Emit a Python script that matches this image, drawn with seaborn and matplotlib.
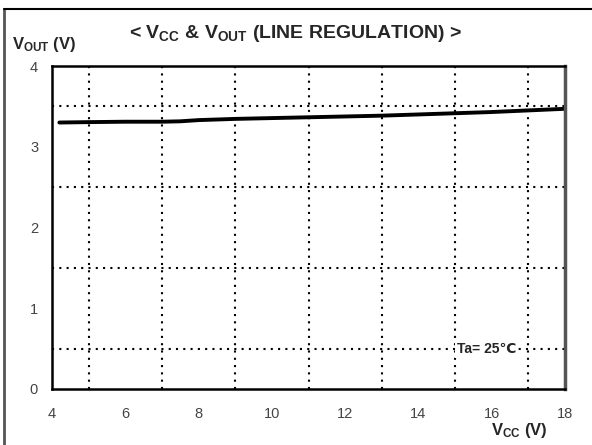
import numpy as np
import pandas as pd
import seaborn as sns
import matplotlib.pyplot as plt
from matplotlib.lines import Line2D

# values
vcc = [4.2, 5, 6, 7, 7.5, 8, 9, 10, 11, 12, 13, 14, 15, 16, 17, 18]
vout = [3.30, 3.305, 3.31, 3.31, 3.315, 3.33, 3.345, 3.355, 3.365, 3.375,
        3.385, 3.40, 3.415, 3.43, 3.45, 3.47]
x_ticks = [4, 6, 8, 10, 12, 14, 16, 18]
y_ticks = [0, 1, 2, 3, 4]

sns.set_style("white")
plt.rcParams["font.family"] = ["Liberation Sans", "DejaVu Sans"]
plt.rcParams["mathtext.fontset"] = "custom"
plt.rcParams["mathtext.rm"] = "Liberation Sans"
plt.rcParams["mathtext.bf"] = "Liberation Sans:bold"

df = pd.DataFrame({"vcc": vcc, "vout": vout})

fig = plt.figure(figsize=(5.92, 4.45), dpi=100)
ax = fig.add_axes([52 / 592, 1 - 389 / 445, 513 / 592, 323 / 445])

sns.lineplot(data=df, x="vcc", y="vout", ax=ax, color="black", linewidth=2.8)

ax.set_xlim(4, 18)
ax.set_ylim(0, 4)
ax.set_xticks(x_ticks)
ax.set_yticks(y_ticks)
ax.set_xticks(np.arange(4, 19, 1), minor=True)
ax.set_yticks(np.arange(0, 4.01, 0.5), minor=True)
ax.grid(True, which="minor", color="black", linestyle=(0, (1, 2.5)), linewidth=1.5)
ax.tick_params(which="both", length=0)
ax.tick_params(axis="x", pad=13, labelsize=10.5, labelcolor="#444444")
ax.tick_params(axis="y", pad=10, labelsize=10.5, labelcolor="#444444")
ax.set_xlabel("")
ax.set_ylabel("")

for s in ["left", "bottom", "top"]:
    ax.spines[s].set_color("black")
    ax.spines[s].set_linewidth(1.8)
ax.spines["right"].set_color("#555555")
ax.spines["right"].set_linewidth(2.5)

fig.text(295 / 592, 1 - 33 / 445, r"< $\mathbf{V_{CC}}$ & $\mathbf{V_{OUT}}$ (LINE REGULATION) >",
         ha="center", va="center", fontsize=14, fontweight="bold")
fig.text(12 / 592, 1 - 45 / 445, r"$\mathbf{V_{OUT}}$ (V)", ha="left", va="center",
         fontsize=12, fontweight="bold")
fig.text(491 / 592, 1 - 431 / 445, r"$\mathbf{V_{CC}}$ (V)", ha="left", va="center",
         fontsize=12, fontweight="bold")
ax.text(15.05, 0.5, "Ta= 25℃", ha="left", va="center", fontsize=10, fontweight="bold",
        family=["Liberation Sans", "DejaVu Sans"],
        bbox=dict(facecolor="white", edgecolor="none", pad=1.5))

# outer frame (left and top only)
fig.add_artist(Line2D([4 / 592, 4 / 592], [0, 1 - 9 / 445], transform=fig.transFigure,
                      color="#555555", linewidth=2))
fig.add_artist(Line2D([4 / 592, 1], [1 - 9 / 445, 1 - 9 / 445], transform=fig.transFigure,
                      color="black", linewidth=1.5))

fig.savefig("out.png", dpi=100)
